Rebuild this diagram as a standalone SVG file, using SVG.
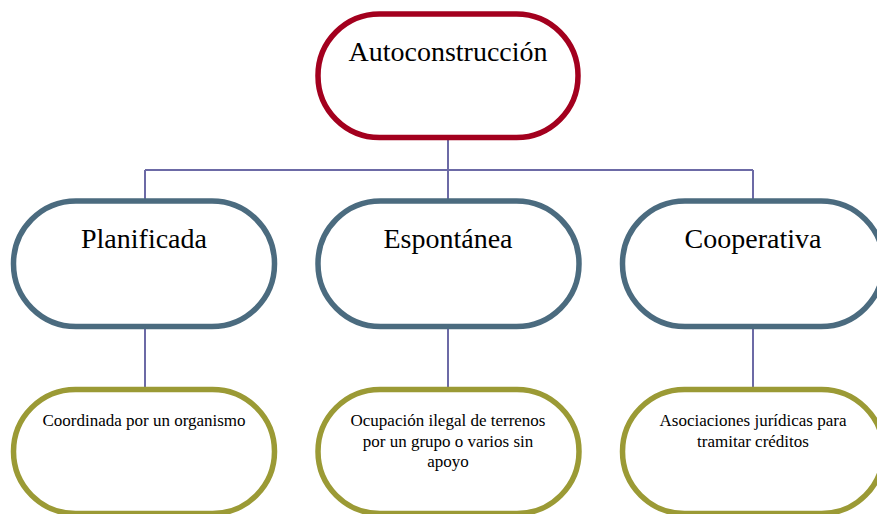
<svg xmlns="http://www.w3.org/2000/svg" width="877" height="514" viewBox="0 0 877 514">
<style>
.box{fill:#fff;stroke-width:5.5}
.top{stroke:#A3001E}
.mid{stroke:#4B6B7F}
.bot{stroke:#9B9A35}
.conn{stroke:#6C6AA6;stroke-width:2;fill:none}
text{font-family:"Liberation Serif","Times New Roman",serif;fill:#000;text-anchor:middle}
.t1{font-size:28px}
.t3{font-size:17px}
</style>
<rect width="877" height="514" fill="#fff"/>
<g id="connectors">
<path class="conn" d="M448 137 V170 M145 170 H753 M145 170 V201 M448 170 V201 M753 170 V201"/>
<path class="conn" d="M145 326 V389 M448 326 V389 M753 326 V389"/>
</g>
<g id="autoconstruccion">
<rect class="box top" x="318" y="14" width="260" height="123.5" rx="61.5"/>
<text class="t1" x="448" y="61">Autoconstrucción</text>
</g>
<g id="planificada">
<rect class="box mid" x="13.5" y="201" width="261" height="125.5" rx="62.5"/>
<text class="t1" x="144" y="248">Planificada</text>
</g>
<g id="espontanea">
<rect class="box mid" x="318" y="201" width="261" height="125.5" rx="62.5"/>
<text class="t1" x="448" y="248">Espontánea</text>
</g>
<g id="cooperativa">
<rect class="box mid" x="622.5" y="201" width="261" height="125.5" rx="62.5"/>
<text class="t1" x="753" y="248">Cooperativa</text>
</g>
<g id="coordinada">
<rect class="box bot" x="13.5" y="389.5" width="261" height="124" rx="62"/>
<text class="t3" x="144" y="426">Coordinada por un organismo</text>
</g>
<g id="ocupacion">
<rect class="box bot" x="318" y="389.5" width="261" height="124" rx="62"/>
<text class="t3" x="448" y="426">Ocupación ilegal de terrenos</text>
<text class="t3" x="448" y="446.5">por un grupo o varios sin</text>
<text class="t3" x="448" y="467">apoyo</text>
</g>
<g id="asociaciones">
<rect class="box bot" x="622.5" y="389.5" width="261" height="124" rx="62"/>
<text class="t3" x="753" y="426">Asociaciones jurídicas para</text>
<text class="t3" x="753" y="446.5">tramitar créditos</text>
</g>
</svg>
